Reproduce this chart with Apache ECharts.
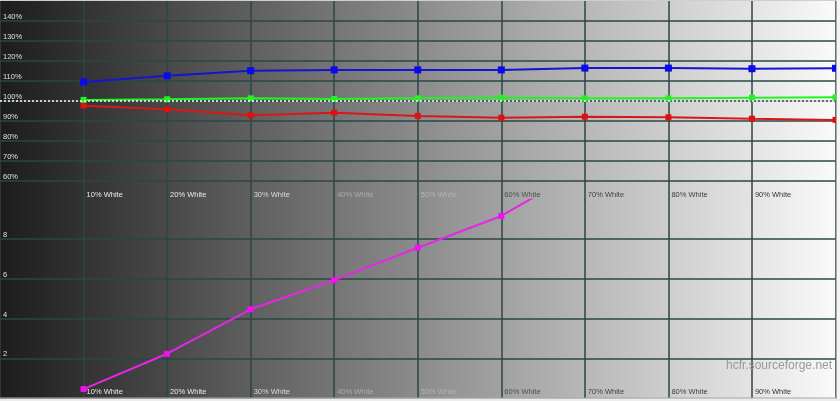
<!DOCTYPE html>
<html>
<head>
<meta charset="utf-8">
<script src="https://cdn.jsdelivr.net/npm/echarts@6/dist/echarts.min.js"></script>
<style>html,body{margin:0;padding:0;background:#f2f2f2}#c{width:840px;height:401px}</style>
</head>
<body>
<div id="c"></div>
<script>
// ---- data ----
const steps = [10, 20, 30, 40, 50, 60, 70, 80, 90, 100];
const stepLabels = ['', '10% White', '20% White', '30% White', '40% White', '50% White', '60% White', '70% White', '80% White', '90% White', ''];
const redLevel   = [97.4, 95.6, 92.6, 93.9, 92.3, 91.4, 91.9, 91.6, 90.9, 90.3];
const greenLevel = [100.3, 100.6, 101.1, 100.8, 101.1, 101.4, 101.1, 101.1, 101.4, 101.6];
const blueLevel  = [109.3, 112.4, 114.9, 115.3, 115.3, 115.3, 116.2, 116.2, 115.9, 116.1];
const deltaE     = [0.45, 2.23, 4.47, 5.94, 7.57, 9.17, 11.6];
const refLevel = 100;

// ---- styling ----
const gridColor = '#2c4646';
const xLabelColors = ['#e8e8e8', '#e8e8e8', '#e8e8e8', '#d8d8d8', '#acacac', '#b4b4b4', '#505050', '#444444', '#404040', '#333333', '#333333'];

function pairs(vals) { return vals.map((v, i) => [steps[i], v]); }

const chart = echarts.init(document.getElementById('c'), null, { renderer: 'canvas' });

function xAxisFor(gi) {
  return {
    type: 'value', gridIndex: gi, min: 0, max: 100, interval: 10,
    axisLine: { show: false }, axisTick: { show: false },
    splitLine: { show: true, lineStyle: { color: gridColor, width: 1.5 } },
    axisLabel: {
      inside: true, margin: 2, align: 'left', verticalAlign: 'bottom',
      showMinLabel: false, showMaxLabel: false,
      fontFamily: 'Liberation Sans, Arial, sans-serif', fontSize: 7.5,
      padding: [0, 0, 0, 3],
      formatter: v => stepLabels[Math.round(v / 10)] || '',
      color: v => xLabelColors[Math.round(Number(v) / 10)]
    }
  };
}

const option = {
  animation: false,
  backgroundColor: {
    type: 'linear', x: 0, y: 0, x2: 1, y2: 0,
    colorStops: [
      { offset: 0, color: '#1c1c1c' },
      { offset: 0.5, color: '#8c8c8c' },
      { offset: 1, color: '#fbfbfb' }
    ]
  },
  grid: [
    { left: 0, right: 4.5, top: 0.5, height: 200 },
    { left: 0, right: 4.5, top: 199.5, bottom: 3 }
  ],
  xAxis: [xAxisFor(0), xAxisFor(1)],
  yAxis: [
    {
      type: 'value', gridIndex: 0, min: 50, max: 150, interval: 10,
      axisLine: { show: false }, axisTick: { show: false },
      splitLine: { show: true, lineStyle: { color: ['transparent', gridColor, gridColor, gridColor, gridColor, gridColor, gridColor, gridColor, gridColor, gridColor, 'transparent'], width: 1.5 } },
      axisLabel: {
        inside: true, margin: 3, align: 'left', verticalAlign: 'bottom',
        showMinLabel: false, showMaxLabel: false,
        fontFamily: 'Liberation Sans, Arial, sans-serif', fontSize: 7.5,
        color: '#e0e0e0', formatter: '{value}%'
      }
    },
    {
      type: 'value', gridIndex: 1, min: 0, max: 10, interval: 2,
      axisLine: { show: false }, axisTick: { show: false },
      splitLine: { show: true, lineStyle: { color: ['transparent', gridColor, gridColor, gridColor, gridColor, 'transparent'], width: 1.5 } },
      axisLabel: {
        inside: true, margin: 3, align: 'left', verticalAlign: 'bottom',
        showMinLabel: false, showMaxLabel: false,
        fontFamily: 'Liberation Sans, Arial, sans-serif', fontSize: 7.5,
        color: '#e0e0e0'
      }
    }
  ],
  series: [
    {
      name: 'Red', type: 'line', xAxisIndex: 0, yAxisIndex: 0,
      data: pairs(redLevel), symbol: 'rect', symbolSize: 6,
      lineStyle: { color: '#d81818', width: 2 }, itemStyle: { color: '#e01010' },
      markLine: {
        silent: true, symbol: ['rect', 'none'], symbolSize: [7, 0],
        label: { show: false },
        lineStyle: { color: '#ffffff', type: [2, 2], width: 1.5 },
        itemStyle: { color: '#ffffff' },
        data: [{ yAxis: refLevel }]
      }
    },
    {
      name: 'Green', type: 'line', xAxisIndex: 0, yAxisIndex: 0,
      data: pairs(greenLevel), symbol: 'rect', symbolSize: 6,
      lineStyle: { color: '#22f422', width: 2 }, itemStyle: { color: '#28f028' }
    },
    {
      name: 'Blue', type: 'line', xAxisIndex: 0, yAxisIndex: 0,
      data: pairs(blueLevel), symbol: 'rect', symbolSize: 7,
      lineStyle: { color: '#1414d4', width: 2 }, itemStyle: { color: '#0a0aec' }
    },
    {
      name: 'DeltaE', type: 'line', xAxisIndex: 1, yAxisIndex: 1, clip: true,
      data: pairs(deltaE), symbol: 'rect', symbolSize: 6,
      lineStyle: { color: '#e626e6', width: 2 }, itemStyle: { color: '#f010f0' }
    }
  ],
  graphic: [
    { type: 'rect', z: 100, shape: { x: 836.5, y: 0, width: 4, height: 401 }, style: { fill: '#f4f4f4' } },
    { type: 'rect', z: 100, shape: { x: 0, y: 398.5, width: 840, height: 3 }, style: { fill: '#ececec' } },
    { type: 'line', z: 101, shape: { x1: 836.5, y1: 0, x2: 836.5, y2: 398.5 }, style: { stroke: '#a8a8a8', lineWidth: 1 } },
    { type: 'line', z: 101, shape: { x1: 0, y1: 398, x2: 837, y2: 398 }, style: { stroke: '#a8a8a8', lineWidth: 1 } },
    { type: 'line', z: 101, shape: { x1: 0, y1: 0.5, x2: 837, y2: 0.5 }, style: { stroke: '#cfcfcf', lineWidth: 1 } },
    {
      type: 'text', z: 102, left: 726, top: 360,
      style: { text: 'hcfr.sourceforge.net', fill: '#9a9a9a', font: '12px "Liberation Sans", Arial, sans-serif' }
    }
  ]
};
chart.setOption(option);
</script>
</body>
</html>
